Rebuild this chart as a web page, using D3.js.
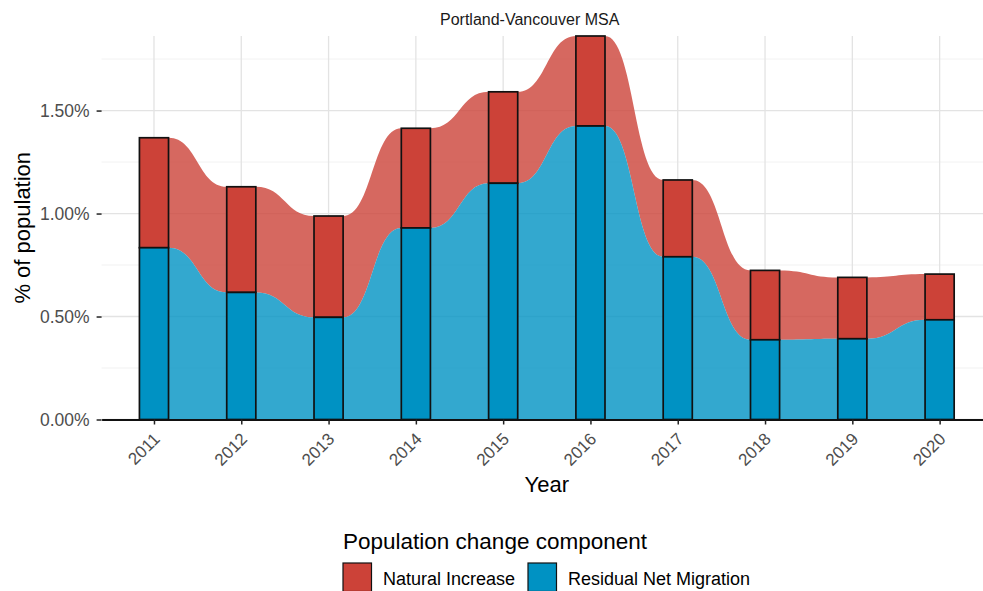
<!DOCTYPE html>
<html>
<head>
<meta charset="utf-8">
<script src="https://cdn.jsdelivr.net/npm/d3@7"></script>
<style>
  body { margin: 0; background: #fff; }
  svg { display: block; font-family: "Liberation Sans", Arial, sans-serif; }
</style>
</head>
<body>
<svg id="chart" width="983" height="591"></svg>
<script>
// values, in % of population
const years = ['2011', '2012', '2013', '2014', '2015', '2016', '2017', '2018', '2019', '2020'];
const migration = [0.834, 0.617, 0.496, 0.930, 1.147, 1.425, 0.790, 0.387, 0.392, 0.484];
const natural = [0.534, 0.513, 0.492, 0.484, 0.444, 0.437, 0.373, 0.337, 0.298, 0.222];
const yTicks = [0, 0.5, 1.0, 1.5];
const yMinor = [0.25, 0.75, 1.25, 1.75];
const components = ['Natural Increase', 'Residual Net Migration'];
const colors = ['#cc4238', '#0092c3'];

function whenDocumentLoaded(action) {
  if (document.readyState === "loading") {
    document.addEventListener("DOMContentLoaded", action);
  } else {
    action();
  }
}

whenDocumentLoaded(() => {
  const svg = d3.select('#chart');
  const left = 101.6, right = 992, top = 36, bottom = 419.5;

  const rows = years.map((y, i) => ({year: y, mig: migration[i], tot: migration[i] + natural[i]}));

  const x = d3.scalePoint().domain(years).range([left, right]).padding(0.6);
  const y = d3.scaleLinear().domain([0, d3.max(rows, d => d.tot)]).range([bottom, top]);
  const barW = x.step() / 3;

  // grid
  const grid = svg.append('g');
  grid.selectAll('.minor').data(yMinor).join('line')
    .attr('x1', left).attr('x2', right)
    .attr('y1', d => y(d)).attr('y2', d => y(d))
    .attr('stroke', '#ededed').attr('stroke-width', 0.8);
  grid.selectAll('.major').data(yTicks).join('line')
    .attr('x1', left).attr('x2', right)
    .attr('y1', d => y(d)).attr('y2', d => y(d))
    .attr('stroke', '#e3e3e3').attr('stroke-width', 1.3);
  grid.selectAll('.vert').data(years).join('line')
    .attr('x1', d => x(d)).attr('x2', d => x(d))
    .attr('y1', top).attr('y2', bottom)
    .attr('stroke', '#e3e3e3').attr('stroke-width', 1.3);

  // flow areas: flat across each bar, smooth between bars
  const pts = [];
  rows.forEach(d => {
    pts.push({x: x(d.year) - barW / 2, mig: d.mig, tot: d.tot});
    pts.push({x: x(d.year) + barW / 2, mig: d.mig, tot: d.tot});
  });

  svg.append('path').datum(pts)
    .attr('d', d3.area().curve(d3.curveBumpX).x(d => d.x).y0(d => y(d.mig)).y1(d => y(d.tot)))
    .attr('fill', colors[0]).attr('fill-opacity', 0.8);
  svg.append('path').datum(pts)
    .attr('d', d3.area().curve(d3.curveBumpX).x(d => d.x).y0(y(0)).y1(d => y(d.mig)))
    .attr('fill', colors[1]).attr('fill-opacity', 0.8);

  // stacked bars
  const bars = svg.append('g');
  bars.selectAll('.nat').data(rows).join('rect')
    .attr('x', d => x(d.year) - barW / 2).attr('width', barW)
    .attr('y', d => y(d.tot)).attr('height', d => y(d.mig) - y(d.tot))
    .attr('fill', colors[0]).attr('stroke', '#111').attr('stroke-width', 1.7);
  bars.selectAll('.mig').data(rows).join('rect')
    .attr('x', d => x(d.year) - barW / 2).attr('width', barW)
    .attr('y', d => y(d.mig)).attr('height', d => y(0) - y(d.mig))
    .attr('fill', colors[1]).attr('stroke', '#111').attr('stroke-width', 1.7);

  // axes
  const xAxis = svg.append('g').attr('transform', `translate(0,${bottom})`)
    .call(d3.axisBottom(x).tickSize(5).tickSizeOuter(0).tickFormat(''));
  xAxis.select('.domain').attr('stroke', '#111').attr('stroke-width', 2);
  xAxis.selectAll('.tick line').attr('stroke', '#222').attr('stroke-width', 1.5);
  svg.append('g').selectAll('text').data(years).join('text')
    .attr('transform', d => `translate(${x(d) + 7},440) rotate(-45)`)
    .attr('text-anchor', 'end')
    .attr('font-size', 17).attr('fill', '#4d4d4d')
    .text(d => d);

  const yAxis = svg.append('g').attr('transform', `translate(${left},0)`)
    .call(d3.axisLeft(y).tickValues(yTicks).tickSize(5).tickPadding(7)
      .tickFormat(d => d3.format('.2f')(d) + '%'));
  yAxis.select('.domain').remove();
  yAxis.selectAll('.tick line').attr('stroke', '#222').attr('stroke-width', 1.5);
  yAxis.selectAll('.tick text').attr('font-size', 17.5).attr('fill', '#4d4d4d')
    .attr('font-family', '"Liberation Sans", Arial, sans-serif');

  // titles
  svg.append('text').attr('x', 440).attr('y', 25)
    .attr('font-size', 16).attr('fill', '#1a1a1a')
    .text('Portland-Vancouver MSA');
  svg.append('text').attr('x', (left + right) / 2).attr('y', 492)
    .attr('text-anchor', 'middle').attr('font-size', 22).attr('fill', '#000')
    .text('Year');
  svg.append('text').attr('transform', `translate(30,${(top + bottom) / 2}) rotate(-90)`)
    .attr('text-anchor', 'middle').attr('font-size', 22).attr('fill', '#000')
    .text('% of population');

  // legend
  const legend = svg.append('g');
  legend.append('text').attr('x', 343).attr('y', 549)
    .attr('font-size', 22.5).attr('fill', '#000')
    .text('Population change component');
  const keyX = [343, 528];
  const item = legend.selectAll('.item').data(components).join('g')
    .attr('transform', (d, i) => `translate(${keyX[i]},563)`);
  item.append('rect').attr('width', 28.5).attr('height', 28.5)
    .attr('fill', (d, i) => colors[i]).attr('stroke', '#111').attr('stroke-width', 1.2);
  item.append('text').attr('x', 40).attr('y', 22)
    .attr('font-size', 18).attr('fill', '#000')
    .text(d => d);
});
</script>
</body>
</html>
